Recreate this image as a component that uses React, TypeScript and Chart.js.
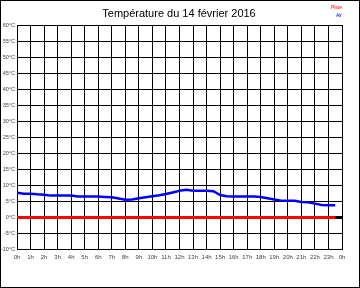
import React, { useEffect, useRef } from "react";
import { Chart, registerables } from "chart.js";

Chart.register(...registerables);

const TITLE = "Température du 14 février 2016";
const HOURS = [0,0.5,1,1.5,2,2.5,3,3.5,4,4.5,5,5.5,6,6.5,7,7.5,8,8.5,9,9.5,10,10.5,11,11.5,12,12.5,13,13.5,14,14.5,15,15.5,16,16.5,17,17.5,18,18.5,19,19.5,20,20.5,21,21.5,22,22.5,23,23.5];
const AIR = [7.7,7.4,7.4,7.2,7.1,6.8,6.8,6.8,6.8,6.5,6.5,6.5,6.5,6.4,6.3,5.9,5.5,5.6,6.0,6.3,6.6,6.9,7.3,7.8,8.3,8.6,8.3,8.3,8.3,8.2,7.0,6.6,6.5,6.5,6.5,6.5,6.4,6.0,5.6,5.2,5.2,5.2,4.8,4.7,4.3,3.9,3.8,3.8];
const PISTE = [0,0,0,0,0,0,0,0,0,0,0,0,0,0,0,0,0,0,0,0,0,0,0,0,0,0,0,0,0,0,0,0,0,0,0,0,0,0,0,0,0,0,0,0,0,0,0,0];
const LEGEND = [{ label: "Piste", color: "#ff0000" }, { label: "Air", color: "#0000ff" }];

const decorPlugin = {
  id: "decor",
  beforeDraw(chart: any) {
    const { ctx, width, height } = chart;
    ctx.save();
    ctx.fillStyle = "#ffffff";
    ctx.fillRect(0, 0, width, height);
    ctx.restore();
  },
  afterDraw(chart: any) {
    const { ctx, width, height, chartArea } = chart;
    ctx.save();
    ctx.strokeStyle = "#000000";
    ctx.lineWidth = 1;
    ctx.strokeRect(0.5, 0.5, width - 1, height - 1);
    ctx.fillStyle = "#000000";
    ctx.font = "11px 'Liberation Sans', Arial, sans-serif";
    ctx.textAlign = "center";
    ctx.textBaseline = "middle";
    ctx.fillText(TITLE, 179, 14);
    ctx.font = "5px 'Liberation Sans', Arial, sans-serif";
    ctx.textAlign = "right";
    LEGEND.forEach((l, i) => {
      ctx.fillStyle = l.color;
      ctx.fillText(l.label, chartArea.right, 8 + i * 8);
    });
    ctx.restore();
  },
};

export default function App() {
  const ref = useRef<HTMLCanvasElement>(null);
  useEffect(() => {
    if (!ref.current) return;
    const chart = new Chart(ref.current, {
      type: "line",
      data: {
        datasets: [
          {
            label: "Air",
            data: HOURS.map((h, i) => ({ x: h, y: AIR[i] })),
            borderColor: "#0000ff",
            borderWidth: 2.5,
            pointRadius: 0,
            tension: 0,
          },
          {
            label: "Piste",
            data: HOURS.map((h, i) => ({ x: h, y: PISTE[i] })),
            borderColor: "#ff0000",
            borderWidth: 3,
            pointRadius: 0,
            tension: 0,
          },
        ],
      },
      options: {
        responsive: false,
        animation: false,
        devicePixelRatio: 1,
        layout: { padding: { left: 0, right: 18, top: 25, bottom: 0 } },
        plugins: { legend: { display: false }, title: { display: false }, tooltip: { enabled: false } },
        scales: {
          x: {
            type: "linear",
            min: 0,
            max: 24,
            afterFit: (s: any) => { s.height = 38.5; },
            ticks: {
              stepSize: 1,
              padding: 4,
              color: "#444",
              font: { size: 6, family: "'Liberation Sans', Arial, sans-serif" },
              maxRotation: 0,
              autoSkip: false,
              callback: (v: any) => (Number(v) % 24) + "h",
            },
            grid: { color: "#000", lineWidth: 1, drawTicks: false },
            border: { display: true, color: "#000", width: 1 },
          },
          y: {
            min: -10,
            max: 60,
            afterFit: (s: any) => { s.width = 17; },
            ticks: {
              stepSize: 5,
              padding: 2,
              color: "#444",
              font: { size: 5.5, family: "'Liberation Sans', Arial, sans-serif" },
              callback: (v: any) => v + "°C",
            },
            grid: {
              color: "#000",
              lineWidth: (c: any) => (c.tick && c.tick.value === 0 ? 3 : 1),
              drawTicks: false,
            },
            border: { display: true, color: "#000", width: 1 },
          },
        },
      },
      plugins: [decorPlugin],
    });
    return () => chart.destroy();
  }, []);
  return (
    <div style={{ position: "absolute", left: 0, top: 0, width: 360, height: 288 }}>
      <canvas ref={ref} width={360} height={288} style={{ display: "block" }} />
    </div>
  );
}
